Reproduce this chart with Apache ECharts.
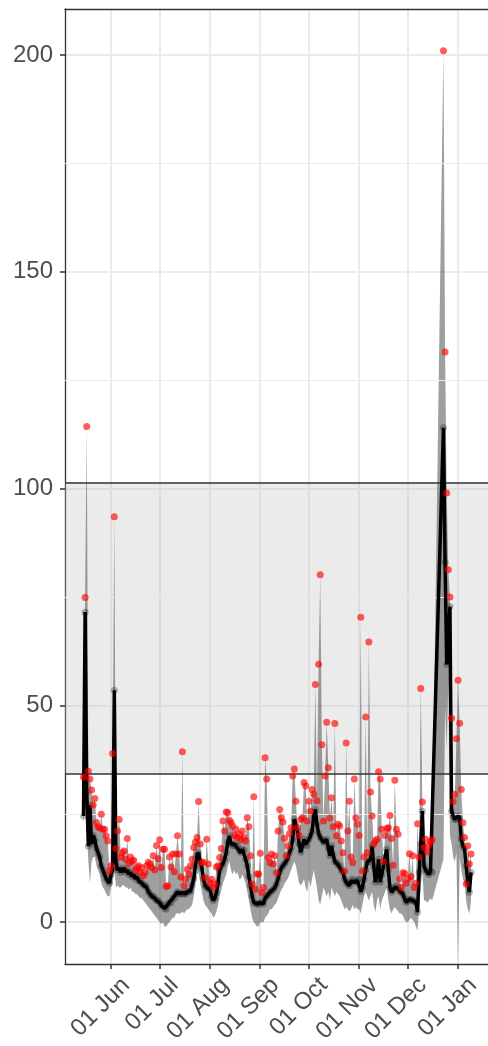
<!DOCTYPE html>
<html><head><meta charset="utf-8">
<script src="https://cdn.jsdelivr.net/npm/echarts@6/dist/echarts.min.js"></script>
<style>html,body{margin:0;padding:0;background:#fff}#c{width:488px;height:1046px}</style>
</head><body><div id="c"></div>
<script>
// ---- data (daily, starting 2020-05-15; null = no data) ----
const startDate = '2020-05-15T00:00:00Z';
const fitted = [
 24.5, 71.5, 30, 17.5, 27, 18, 20, 19, 17, 16,
 15, 13, 12, 11, 10, 9.5, 9, 11, 12, 53.5,
 14, 12, 12.5, 11.5, 12, 12.5, 11.5, 12, 11, 11.5,
 10.5, 11, 10, 10.5, 9.5, 9.5, 9, 8.5, 8.5, 8,
 7, 6.5, 6, 6, 5.5, 5, 5, 4.5, 3.8, 4,
 3.2, 3, 4, 4.6, 4.5, 5.5, 5.5, 6.5, 7, 6.5,
 6.5, 6.8, 6.5, 6.5, 7, 7, 7.2, 8.5, 10, 13,
 15.5, 16, 14, 12.5, 10, 8.5, 8, 7.8, 7.5, 6,
 5, 5.5, 6.8, 9, 12, 13, 13.5, 14.5, 16, 18.5,
 19.9, 18, 17.6, 18, 17.5, 17.6, 16.5, 16, 16.8, 16.5,
 14.5, 13, 10.5, 8.4, 6, 4.6, 4.3, 4.2, 4.1, 4.5,
 4.6, 4.2, 5.5, 6, 6.3, 6.9, 7.2, 7.5, 8, 8.8,
 10, 11.5, 12.5, 13, 13.5, 14, 14.8, 16, 17, 19,
 23.7, 22.5, 21, 18, 16.1, 17.5, 19.1, 18, 17.6, 19,
 19.9, 21, 24.5, 26, 22.5, 20.5, 19.5, 19.1, 18.4, 18.5,
 19.1, 17, 15.3, 17.6, 15.5, 14, 13.8, 13.2, 13, 12,
 11.5, 10, 9.2, 8.8, 8.4, 9.5, 9.9, 9.2, 9.5, 9.5,
 9.9, 7, 8, 9.9, 12, 13.8, 14, 14.5, 17.6, 13,
 9.2, 11, 14.5, 9.2, 11, 13, 15, 16.8, 12, 8,
 6.9, 7.5, 8, 8.4, 7.8, 7.2, 6.9, 6.5, 5.5, 4.6,
 4.8, 5.3, 5.3, 5, 4.8, 4.6, 2.3, 11.5, 18, 25.6,
 13, 12, 11.5, 11, 11.8, 11.5, null, null, null, null,
 null, null, 114, 83, 59.4, 66, 72.8, 25.6, 24.5, 23.7,
 23.7, 24.5, 24, 19.1, 17.6, 17, 13, 9.2, 6.9, 11.5
];
const observed = [
 33.5, 74.9, 114.3, 34.8, 33, 30.5, 27, 28.5, 23, 22,
 21.7, 24.9, 21.4, 21.4, 19.9, 18.7, 11.8, 13, 38.9, 93.5,
 17, 21, 23.7, 15, 16, 16.4, 14.5, 19.3, 13.5, 15,
 14, 14.3, 12, 12.6, 13, 11.5, 12.6, 10.7, 11.4, 13,
 13.8, 13.4, 12.6, 15.3, 12, 17.7, 14.6, 19, 12.6, 16.8,
 16.8, 8.2, 8.4, 15, 12.7, 15.7, 11.6, 15.7, 19.9, 15.7,
 10.4, 39.3, 8.4, 9.9, 12.2, 11, 13, 14.5, 17.2, 18.4,
 19.5, 27.8, 18, 13.7, 13.8, 10.3, 19.1, 13.4, 9.1, 9.9,
 8, 8.8, 12.7, 13, 14.9, 17, 23.3, 21, 25.4, 25.3,
 23.5, 23, 22.2, 20, 21.4, 19.5, 20.3, 19, 21, 19.5,
 18.7, 24.1, 22, 15.3, 8.8, 28.9, 7.6, 11.1, 11.1, 15.9,
 6.8, 8, 37.9, 33, 14.9, 13.7, 15.7, 13.4, 15.3, 11.4,
 21, 26, 24.1, 23.1, 19.3, 15.3, 17.6, 20.4, 21.8, 33.7,
 35.3, 27.9, 21.8, 20, 23.7, 24.1, 32.2, 31.4, 23.3, 27.9,
 25.6, 30.6, 29.5, 54.8, 28, 59.5, 80.1, 40.9, 23.3, 33.7,
 46.1, 35.6, 24, 28.7, 22, 45.8, 19.9, 22.6, 22.2, 18.7,
 16, 11.8, 41.3, 21, 27.9, 15, 13.7, 33, 24.1, 22.6,
 20, 70.3, 11.8, 15, 47.3, 16, 64.6, 30, 24.5, 18,
 18.7, 19.1, 34.7, 33, 21.4, 14, 20, 21.6, 21.8, 24.6,
 19.3, 13.1, 32.7, 21.4, 20.3, 10, 8, 11.4, 11.2, 9,
 10, 15.8, 10.5, 15.3, 8, 9, 22.7, 15, 53.9, 27.7,
 17.2, 19.1, 16.2, 17.7, 18.5, 19, null, null, null, null,
 null, null, 201, 131.5, 99, 81.3, 75, 47, 27.8, 29.5,
 42.3, 55.8, 45.9, 30.6, 22.9, 19.5, 8.8, 17.6, 13.4, 15.7
];
const lower = [
 22, 30, 22, 14, 9, 14, 15, 15, 13, 12,
 11, 9, 8, 7.5, 6.5, 6, 6, 8, 9, 13,
 8, 8.5, 8, 8, 8.5, 8.5, 8, 8, 7.5, 8,
 7, 7, 6.5, 6.5, 6, 5.5, 5.5, 5, 4.5, 4,
 3.5, 3, 2.5, 2, 1.5, 1, 0.5, 0, -0.5, 0,
 -1, -1, -0.5, 0, 0.5, 1, 1, 2, 2, 2,
 2, 2.5, 2, 2.5, 3, 3, 3.5, 4, 6, 9,
 11, 11.5, 9, 7, 5, 4, 3.5, 3, 2.5, 2,
 1, 1.5, 2.5, 4, 6, 7.5, 9, 10, 11, 13,
 14, 12, 11, 12, 11, 11.5, 10, 10, 11, 10,
 9, 7, 5, 3, 1, 0, -0.5, -1, -1, 0,
 0, 0, 1, 1.5, 2, 3, 3, 3.5, 4, 4.5,
 5.5, 6.5, 7.5, 8, 9, 9.5, 10, 11, 12, 13,
 14, 13, 11, 9, 8.5, 9, 10, 8, 7, 10,
 8, 10, 12, 10, 8, 5, 4, 6, 8, 7,
 6, 7, 5, 8, 7, 6, 7, 6.5, 6, 5,
 4, 3, 3.5, 3, 2.5, 3, 4, 3, 3.5, 3,
 3, 2, 4, 6, 7, 6, 5, 6, 7, 4,
 2.3, 5, 6, 3, 5, 6, 7, 8, 5, 3,
 2, 3, 3.5, 3, 2.5, 2, 2, 1.5, 0.5, 0,
 0, 0.5, 1, 0.5, 0, -1, -2, 3, 8, 12,
 5, 5, 4.5, 5, 5.5, 5, null, null, null, null,
 null, null, 14.5, 50, 40, 55, 20, 18, 15, 14,
 16, -9.6, 15, 12, 10, 9, 5, 3, 2, 5
];
const monthTicks = ['2020-06-01','2020-07-01','2020-08-01','2020-09-01','2020-10-01','2020-11-01','2020-12-01','2021-01-01'];
const monthNames = ['Jan','Feb','Mar','Apr','May','Jun','Jul','Aug','Sep','Oct','Nov','Dec'];
const yBreaks = [0, 50, 100, 150, 200];
const yMinorBreaks = [25, 75, 125, 175];
const band = [34.3, 101.4];
const xRange = ['2020-05-03T14:24:00Z', '2021-01-19T11:17:00Z'];
const yRange = [-9.68, 210.6];

// ---- build ----
const DAY = 86400000;
const LABEL_NUDGE = 4 * DAY; // rotated labels sit slightly right of their tick (hjust=1 look)
const t0 = Date.parse(startDate);
const times = fitted.map((_, i) => t0 + i * DAY);
const monthTs = monthTicks.map(s => Date.parse(s + 'T00:00:00Z'));
const fitPts = [], obsPts = [];
times.forEach((t, i) => {
  if (fitted[i] != null) fitPts.push([t, fitted[i]]);
  if (observed[i] != null) obsPts.push([t, observed[i]]);
});
const linePts = times.map((t, i) => [t, fitted[i]]);
const xMin = Date.parse(xRange[0]), xMax = Date.parse(xRange[1]);

const FONT = 'Liberation Sans, Arial, sans-serif';
const BORDER = '#333333';
const chart = echarts.init(document.getElementById('c'), null, {renderer: 'canvas'});
chart.setOption({
  animation: false,
  backgroundColor: '#ffffff',
  grid: {left: 65, right: 0, top: 9, bottom: 81, show: false, containLabel: false},
  xAxis: [{
    type: 'value', min: xMin, max: xMax, scale: true,
    axisLine: {show: true, onZero: false, lineStyle: {color: BORDER, width: 1.3}},
    axisTick: {show: true, customValues: monthTs, length: 5, lineStyle: {color: BORDER, width: 1.5}},
    axisLabel: {customValues: monthTs.map(t => t + LABEL_NUDGE), rotate: 45, align: 'right', verticalAlign: 'top', margin: 9,
      fontSize: 24, color: '#4d4d4d', fontFamily: FONT,
      formatter: v => '01 ' + monthNames[new Date(v).getUTCMonth()]},
    splitLine: {show: true, lineStyle: {color: '#ebebeb', width: 2}}
  }, {
    type: 'value', min: xMin, max: xMax, scale: true, position: 'top',
    axisLine: {show: true, onZero: false, lineStyle: {color: BORDER, width: 1.3}},
    axisTick: {show: false}, axisLabel: {show: false}, splitLine: {show: false}
  }],
  yAxis: {
    type: 'value', min: yRange[0], max: yRange[1],
    axisLine: {show: true, onZero: false, lineStyle: {color: BORDER, width: 1.3}},
    axisTick: {show: true, customValues: yBreaks, length: 5, lineStyle: {color: BORDER, width: 1.5}},
    axisLabel: {customValues: yBreaks, margin: 12, fontSize: 24, color: '#4d4d4d', fontFamily: FONT},
    splitLine: {show: true, lineStyle: {color: '#ebebeb', width: 2}}
  },
  series: [
    {type: 'line', data: [], z: 1, silent: true,
     markLine: {silent: true, symbol: ['none', 'none'], label: {show: false},
       lineStyle: {color: '#ebebeb', width: 1, type: 'solid'},
       data: yMinorBreaks.map(v => ({yAxis: v}))}},
    {type: 'line', data: [], z: 2, silent: true,
     markArea: {silent: true, itemStyle: {color: 'rgba(190,190,190,0.3)'},
       data: [[{yAxis: band[0]}, {yAxis: band[1]}]]},
     markLine: {silent: true, symbol: ['none', 'none'], label: {show: false},
       lineStyle: {color: BORDER, width: 1.5, type: 'solid'},
       data: band.map(v => ({yAxis: v}))}},
    {type: 'custom', z: 3, silent: true, clip: true,
     data: [[times[0], 0]],
     renderItem: (params, api) => {
       const up = [], dn = [];
       times.forEach((t, i) => {
         if (observed[i] == null || lower[i] == null) return;
         up.push(api.coord([t, observed[i]]));
         dn.push(api.coord([t, lower[i]]));
       });
       return {type: 'polygon', shape: {points: up.concat(dn.reverse())},
               style: {fill: 'rgba(80,80,80,0.55)'}};
     }},
    {type: 'scatter', z: 4, silent: true, data: fitPts, symbolSize: 7,
     itemStyle: {color: 'rgba(30,30,30,0.4)'}},
    {type: 'line', z: 5, silent: true, data: linePts, connectNulls: true, showSymbol: false,
     lineStyle: {color: '#000000', width: 3.5}},
    {type: 'scatter', z: 6, silent: true, data: obsPts, symbolSize: 7,
     itemStyle: {color: 'rgba(255,0,0,0.8)'}}
  ]
});
</script></body></html>
